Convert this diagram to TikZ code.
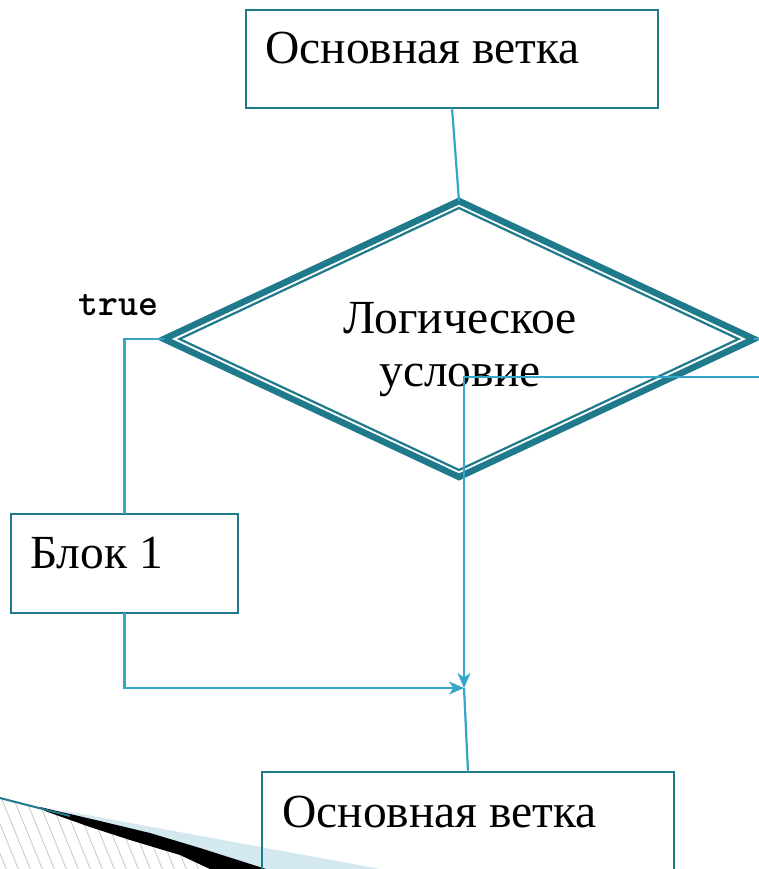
\documentclass[tikz,border=0pt]{standalone}
\usepackage{fontspec}
\setmainfont{Liberation Serif}
\usetikzlibrary{shapes.geometric,arrows.meta}
\definecolor{frameteal}{RGB}{31,122,140}
\definecolor{linkblue}{RGB}{52,166,200}
\definecolor{paleblue}{RGB}{212,232,240}
\definecolor{hatchgray}{RGB}{200,200,200}
\begin{document}
\begin{tikzpicture}[x=1pt,y=-1pt,
  box/.style={draw=frameteal, line width=2.2pt, rectangle, inner sep=0pt, outer sep=0pt},
  decision/.style={diamond, draw=frameteal, inner sep=0pt, outer sep=0pt},
  lbl/.style={inner sep=0pt, font=\fontsize{47.5}{53}\selectfont, text=black},
  codelbl/.style={inner sep=0pt, font=\ttfamily\bfseries\fontsize{38}{38}\selectfont, text=black},
  conn/.style={draw=linkblue, line width=2.2pt},
  arr/.style={conn, -{Stealth[length=15pt,width=13pt,inset=4.5pt]}}
]
\useasboundingbox (0,0) rectangle (759,869);
\fill[white] (0,0) rectangle (759,869);

% corner ornament: pale wedge, hatched band, black sweep
\fill[paleblue] (60,810) -- (380,869) -- (205,869) -- cycle;
\begin{scope}
  \clip (0,798) -- (45,811) -- (90,827) -- (130,840) -- (180,855) -- (210,869) -- (0,869) -- cycle;
  \fill[white] (0,790) rectangle (260,869);
  \foreach \i in {-5,...,22}
    \draw[hatchgray, line width=0.8pt] (\i*12-30,780) -- ++(40,98);
\end{scope}
\fill[black] (40,807) -- (100,821) -- (150,833) -- (200,848) -- (266,869)
  -- (210,869) -- (180,855) -- (130,840) -- (90,827) -- (45,811) -- cycle;
\draw[frameteal, line width=2pt] (0,798) -- (70,816);

% blocks
\node[box, minimum width=412pt, minimum height=98pt] (top) at (452,59) {};
\node[lbl, anchor=base west] (toptxt) at (265,64) {Основная ветка};

\node[decision, line width=6.5pt, minimum width=590pt, minimum height=276pt] (cond) at (459,339) {};
\node[decision, line width=2.2pt, minimum width=559pt, minimum height=262pt] (condin) at (459,339) {};
\node[lbl, align=center, anchor=base] (condtxt) at (460,386) {Логическое\\условие};

\node[codelbl, anchor=base west] (truetxt) at (78,315) {true};

\node[box, minimum width=227pt, minimum height=99pt] (blk) at (124.5,563.5) {};
\node[lbl, anchor=base west] (blktxt) at (30,568) {Блок 1};

\node[box, minimum width=412pt, minimum height=130pt] (bot) at (468,837) {};
\node[lbl, anchor=base west] (bottxt) at (282,827) {Основная ветка};

% connectors
\coordinate (m) at (464,688);
\coordinate (fout) at (775,339);
\coordinate (fin) at (775,377);
\coordinate (fturn) at (464,377);

\draw[conn] (top.south) -- (cond.north);
\draw[conn] (cond.west) -| (blk.north);
\draw[arr] (blk.south) |- (m);
\draw[arr] (cond.east) -- (fout) -- (fin) -- (fturn) -- (m);
\draw[conn] (m) -- (bot.north);
\end{tikzpicture}
\end{document}
